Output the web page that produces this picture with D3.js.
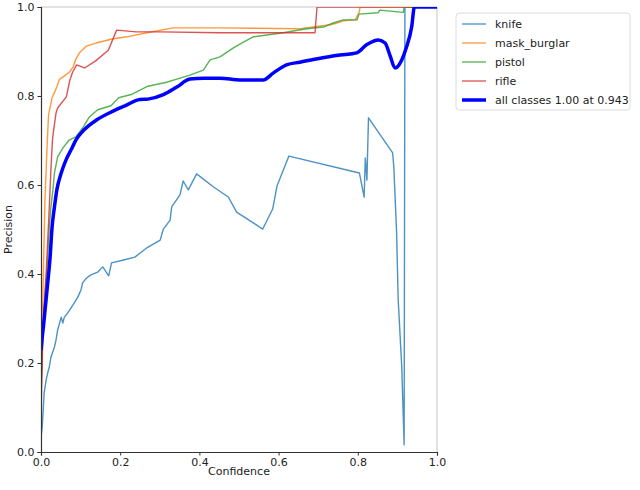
<!DOCTYPE html>
<html>
<head>
<meta charset="utf-8">
<script src="https://cdn.jsdelivr.net/npm/d3@7"></script>
<style>
  body { margin: 0; background: #fff; }
  svg { font-family: "DejaVu Sans", sans-serif; }
</style>
</head>
<body>
<div id="chart"></div>
<script>

// [confidence, precision] pairs
const knife = [
  [0.000, 0.034], [0.003, 0.056], [0.006, 0.101], [0.008, 0.133], [0.013, 0.162],
  [0.017, 0.178], [0.021, 0.191], [0.025, 0.213], [0.034, 0.236], [0.038, 0.252],
  [0.042, 0.274], [0.051, 0.303], [0.055, 0.290], [0.059, 0.303], [0.067, 0.312],
  [0.076, 0.324], [0.084, 0.335], [0.093, 0.348], [0.101, 0.364], [0.105, 0.380],
  [0.115, 0.391], [0.126, 0.398], [0.143, 0.404], [0.156, 0.416], [0.171, 0.396],
  [0.178, 0.425], [0.206, 0.431], [0.237, 0.438], [0.266, 0.458], [0.301, 0.476],
  [0.309, 0.501], [0.326, 0.521], [0.330, 0.551], [0.351, 0.578], [0.359, 0.609],
  [0.372, 0.589], [0.393, 0.625], [0.435, 0.596], [0.473, 0.573], [0.494, 0.539],
  [0.560, 0.501], [0.585, 0.546], [0.596, 0.598], [0.626, 0.665], [0.804, 0.627],
  [0.816, 0.573], [0.819, 0.661], [0.823, 0.611], [0.827, 0.751], [0.888, 0.672],
  [0.891, 0.640], [0.898, 0.492], [0.902, 0.342], [0.911, 0.191], [0.917, 0.016],
  [0.919, 1.000], [1.000, 1.000]
];

const maskBurglar = [
  [0.001, 0.150], [0.005, 0.364], [0.010, 0.566], [0.015, 0.679], [0.019, 0.757],
  [0.028, 0.796], [0.038, 0.816], [0.047, 0.838], [0.056, 0.843], [0.072, 0.854],
  [0.081, 0.865], [0.088, 0.883], [0.097, 0.897], [0.114, 0.912], [0.139, 0.919],
  [0.179, 0.928], [0.217, 0.933], [0.268, 0.942], [0.333, 0.953], [0.452, 0.953],
  [0.654, 0.951], [0.730, 0.960], [0.747, 0.964], [0.763, 0.969], [0.793, 0.971],
  [0.803, 0.987], [0.806, 1.000], [1.000, 1.000]
];

const pistol = [
  [0.000, 0.150], [0.003, 0.207], [0.004, 0.252], [0.008, 0.326], [0.013, 0.387],
  [0.017, 0.438], [0.021, 0.506], [0.025, 0.551], [0.030, 0.589], [0.034, 0.627],
  [0.042, 0.663], [0.055, 0.683], [0.071, 0.701], [0.088, 0.708], [0.105, 0.728],
  [0.122, 0.753], [0.143, 0.769], [0.177, 0.778], [0.196, 0.796], [0.230, 0.804],
  [0.270, 0.822], [0.317, 0.831], [0.351, 0.840], [0.376, 0.847], [0.410, 0.858],
  [0.427, 0.881], [0.452, 0.888], [0.486, 0.908], [0.511, 0.921], [0.536, 0.933],
  [0.570, 0.937], [0.612, 0.942], [0.637, 0.946], [0.671, 0.951], [0.713, 0.955],
  [0.738, 0.964], [0.763, 0.971], [0.798, 0.971], [0.803, 0.984], [0.851, 0.987],
  [0.856, 0.993], [0.915, 0.988], [0.917, 1.000], [1.000, 1.000]
];

const rifle = [
  [0.000, 0.060], [0.001, 0.117], [0.003, 0.207], [0.005, 0.274], [0.008, 0.326],
  [0.013, 0.402], [0.017, 0.476], [0.021, 0.551], [0.025, 0.634], [0.029, 0.701],
  [0.031, 0.717], [0.038, 0.762], [0.042, 0.773], [0.064, 0.798], [0.073, 0.836],
  [0.080, 0.854], [0.090, 0.870], [0.110, 0.863], [0.138, 0.879], [0.170, 0.903],
  [0.191, 0.948], [0.240, 0.944], [0.301, 0.944], [0.452, 0.942], [0.692, 0.942],
  [0.697, 1.000], [1.000, 1.000]
];

const allClasses = [
  [0.000, 0.229], [0.003, 0.258], [0.006, 0.281], [0.011, 0.326], [0.017, 0.380],
  [0.023, 0.438], [0.028, 0.506], [0.034, 0.551], [0.040, 0.589], [0.051, 0.627],
  [0.063, 0.656], [0.076, 0.679], [0.088, 0.701], [0.109, 0.724], [0.140, 0.746],
  [0.182, 0.766], [0.212, 0.778], [0.250, 0.792], [0.270, 0.793], [0.309, 0.803],
  [0.343, 0.820], [0.376, 0.838], [0.410, 0.840], [0.452, 0.840], [0.503, 0.836],
  [0.561, 0.836], [0.587, 0.852], [0.620, 0.870], [0.654, 0.876], [0.705, 0.885],
  [0.755, 0.892], [0.797, 0.897], [0.822, 0.915], [0.852, 0.926], [0.869, 0.919],
  [0.881, 0.892], [0.894, 0.863], [0.911, 0.881], [0.923, 0.910], [0.936, 0.955],
  [0.943, 1.000], [1.000, 1.000]
];

const seriesNames = ["knife", "mask_burglar", "pistol", "rifle", "all classes 1.00 at 0.943"];
const seriesData = [knife, maskBurglar, pistol, rifle, allClasses];
const seriesColors = ["#1f77b4", "#ff7f0e", "#2ca02c", "#d62728", "#0000ff"];
const seriesWidths = [1.4, 1.4, 1.4, 1.4, 3.5];

const tickValues = [0, 0.2, 0.4, 0.6, 0.8, 1.0];

const width = 640;
const height = 490;
const margin = { top: 7, right: 203, bottom: 38, left: 41 };

const svg = d3.select("#chart").append("svg")
  .attr("width", width)
  .attr("height", height);

const x = d3.scaleLinear().domain([0, 1]).range([margin.left, width - margin.right]);
const y = d3.scaleLinear().domain([0, 1]).range([height - margin.bottom, margin.top]);

// clip to the axes box like matplotlib does
svg.append("clipPath").attr("id", "plot-clip")
  .append("rect")
  .attr("x", x(0)).attr("y", y(1))
  .attr("width", x(1) - x(0)).attr("height", y(0) - y(1));

// top / right spines (faint)
svg.append("line")
  .attr("x1", x(0)).attr("x2", x(1)).attr("y1", y(1)).attr("y2", y(1))
  .attr("stroke", "#d9d9d9").attr("stroke-width", 1.5);
svg.append("line")
  .attr("x1", x(1)).attr("x2", x(1)).attr("y1", y(1)).attr("y2", y(0))
  .attr("stroke", "#d9d9d9").attr("stroke-width", 1.5);

const line = d3.line()
  .x(d => x(d[0]))
  .y(d => y(d[1]));

// the mean curve is smooth in the picture
const smoothLine = d3.line()
  .x(d => x(d[0]))
  .y(d => y(d[1]))
  .curve(d3.curveMonotoneX);

const gLines = svg.append("g")
  .attr("clip-path", "url(#plot-clip)")
  .attr("fill", "none")
  .attr("stroke-linejoin", "round");

seriesData.forEach((data, i) => {
  gLines.append("path")
    .datum(data)
    .attr("d", i < 4 ? line : smoothLine)
    .attr("stroke", seriesColors[i])
    .attr("stroke-width", seriesWidths[i])
    .attr("stroke-opacity", i < 4 ? 0.8 : 1);
});

// axes
const xAxis = svg.append("g")
  .attr("transform", `translate(0,${y(0)})`)
  .call(d3.axisBottom(x).tickValues(tickValues).tickFormat(d3.format(".1f")).tickSizeOuter(0).tickSize(3.5).tickPadding(3));

const yAxis = svg.append("g")
  .attr("transform", `translate(${x(0)},0)`)
  .call(d3.axisLeft(y).tickValues(tickValues).tickFormat(d3.format(".1f")).tickSizeOuter(0).tickSize(3.5).tickPadding(3));

[xAxis, yAxis].forEach(g => {
  g.select(".domain").attr("stroke", "#333").attr("stroke-width", 1.2);
  g.selectAll(".tick line").attr("stroke", "#333");
  g.selectAll(".tick text")
    .attr("fill", "#222")
    .style("font-family", "'DejaVu Sans', sans-serif")
    .style("font-size", "11px");
});

svg.append("text")
  .attr("x", (x(0) + x(1)) / 2)
  .attr("y", 475)
  .attr("text-anchor", "middle")
  .attr("fill", "#222")
  .style("font-size", "11px")
  .text("Confidence");

svg.append("text")
  .attr("transform", `translate(12,${(y(0) + y(1)) / 2}) rotate(-90)`)
  .attr("text-anchor", "middle")
  .attr("fill", "#222")
  .style("font-size", "11px")
  .text("Precision");

// legend
const legend = svg.append("g").attr("transform", "translate(456,13)");
legend.append("rect")
  .attr("width", 174).attr("height", 97)
  .attr("rx", 3)
  .attr("fill", "#fff")
  .attr("stroke", "#dcdcdc");

seriesNames.forEach((name, i) => {
  const row = legend.append("g").attr("transform", `translate(0,${11 + i * 19})`);
  row.append("line")
    .attr("x1", 6).attr("x2", 30)
    .attr("stroke", seriesColors[i])
    .attr("stroke-width", seriesWidths[i])
    .attr("stroke-opacity", i < 4 ? 0.75 : 1);
  row.append("text")
    .attr("x", 39).attr("dy", "0.35em")
    .attr("fill", "#222")
    .style("font-size", "11px")
    .text(name);
});
</script>
</body>
</html>
